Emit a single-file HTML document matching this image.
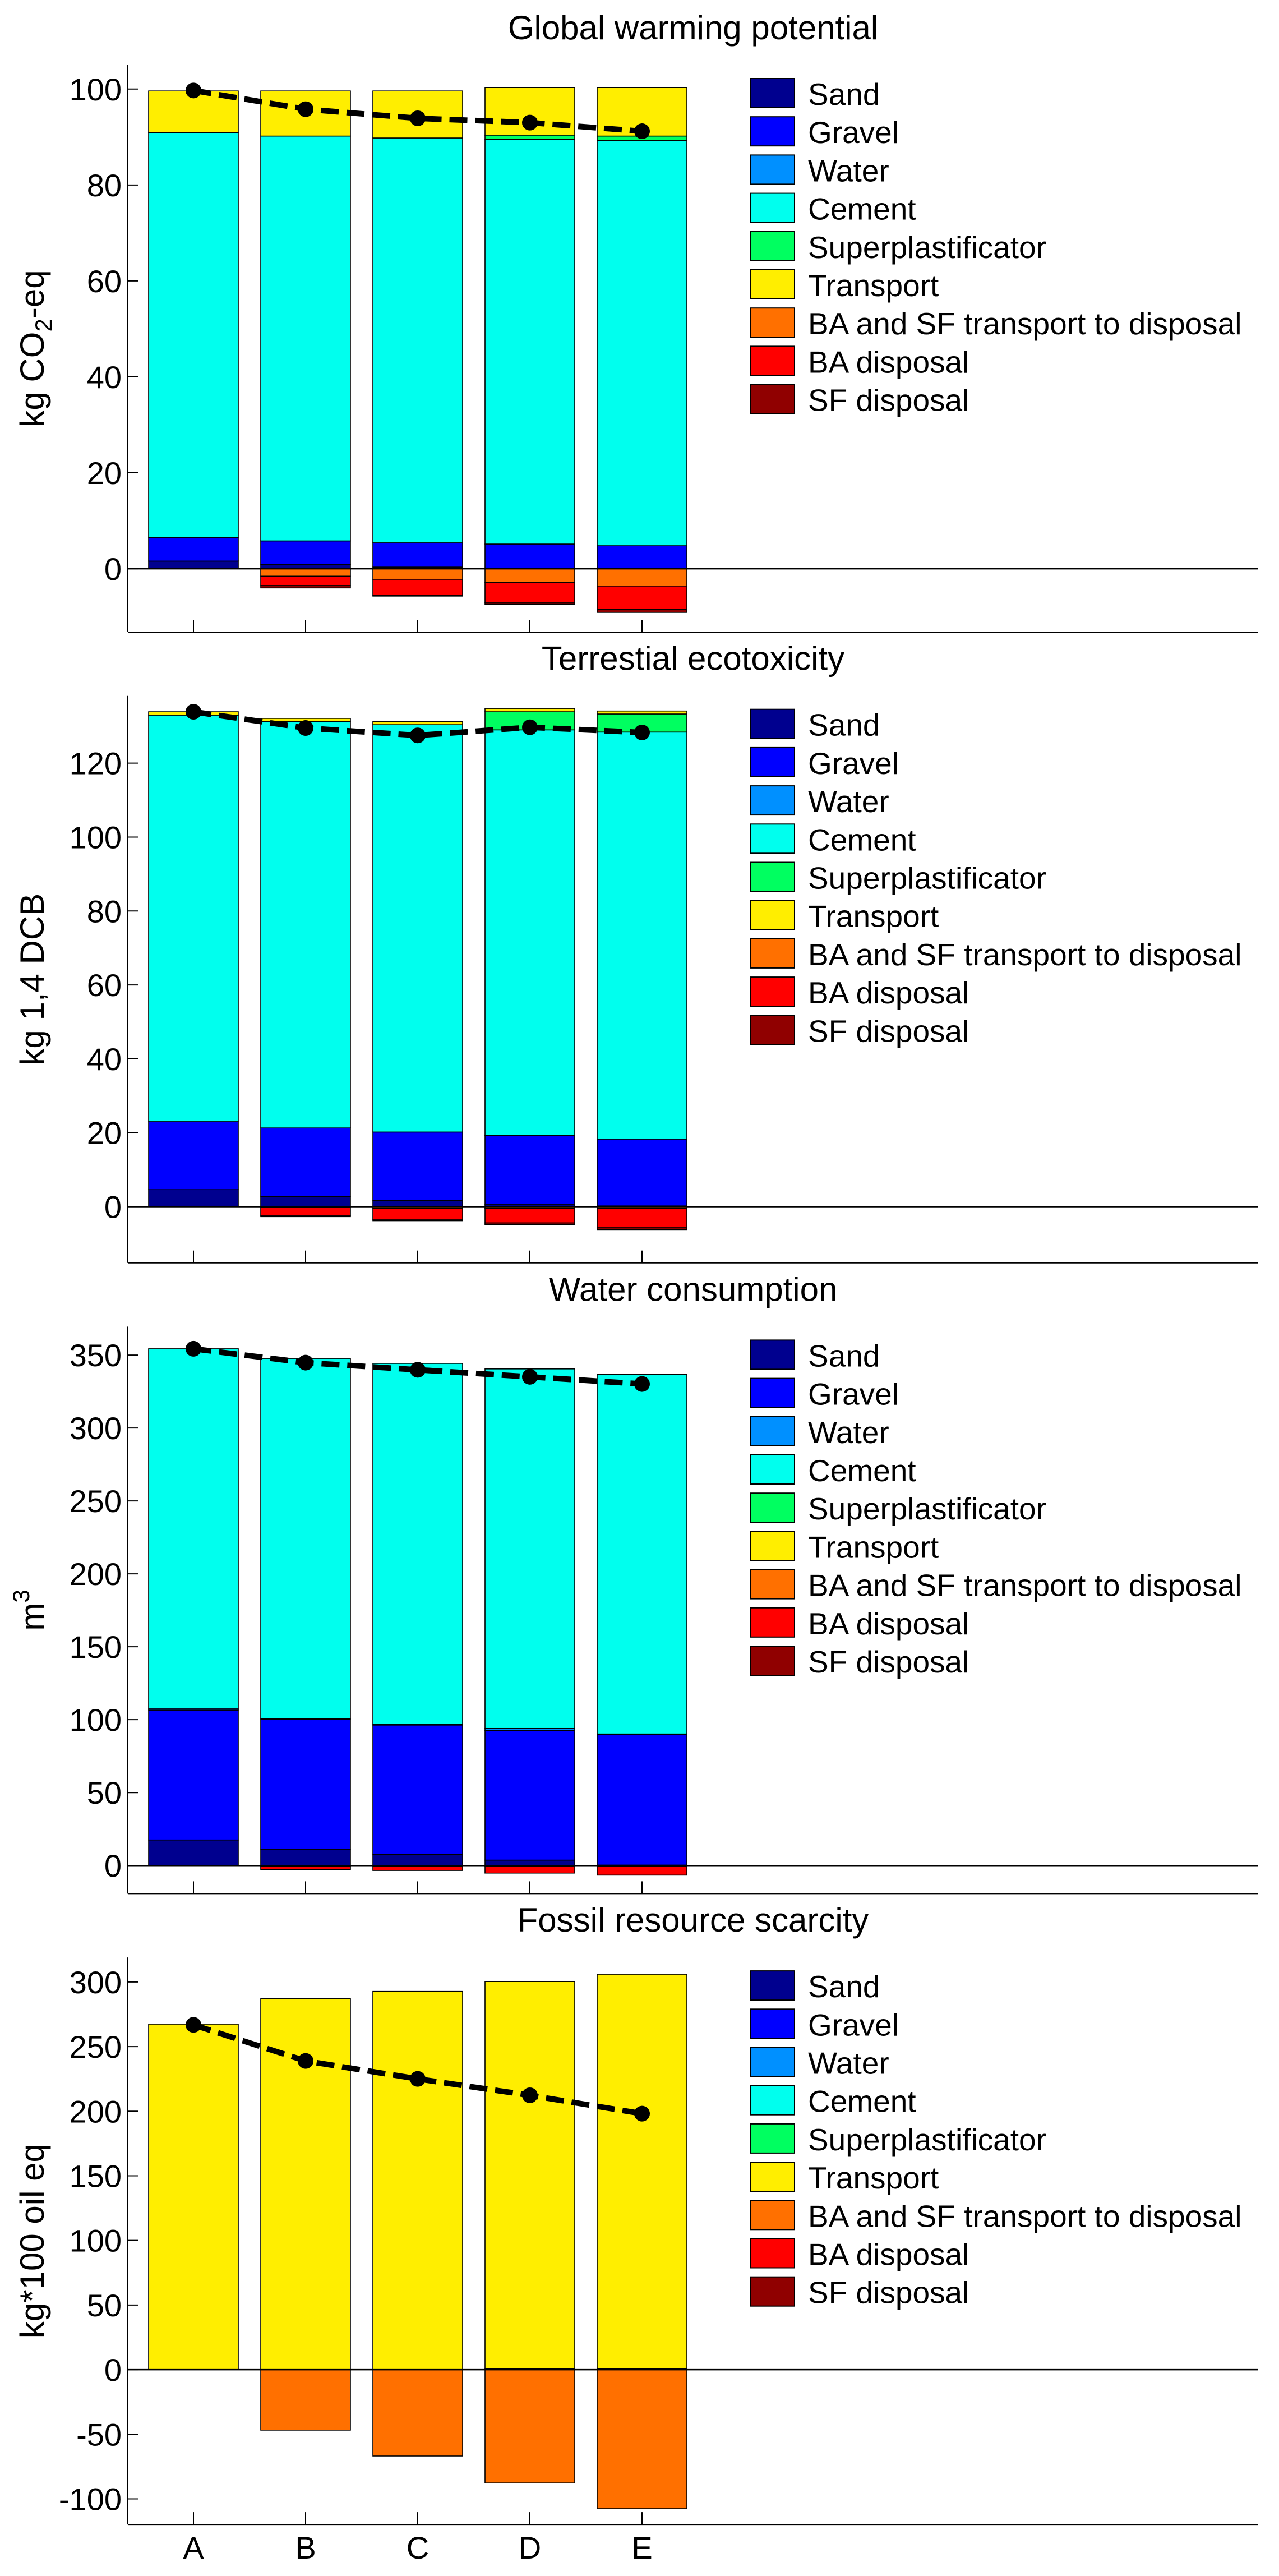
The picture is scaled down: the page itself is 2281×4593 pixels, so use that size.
<!DOCTYPE html>
<html><head><meta charset="utf-8"><style>
html,body{margin:0;padding:0;background:#fff}
svg{display:block}
text{font-family:"Liberation Sans",Arial,sans-serif;fill:#000}
</style></head><body>
<svg id="fig" xmlns="http://www.w3.org/2000/svg" width="2281" height="4593" viewBox="0 0 2281 4593"></svg>
<script>
const categories = ["A","B","C","D","E"];
const seriesNames = ["Sand","Gravel","Water","Cement","Superplastificator","Transport","BA and SF transport to disposal","BA disposal","SF disposal"];
const seriesColors = ["#00008f","#0000ff","#0090ff","#00ffee","#00ff60","#ffee00","#ff7000","#ff0000","#900000"];

// Global warming potential
const gwpSand = [1.6,0.9,0.35,0.1,0];
const gwpGravel = [4.9,4.9,5.05,5.05,4.8];
const gwpWater = [0,0,0,0,0];
const gwpCement = [84.4,84.4,84.4,84.35,84.5];
const gwpSP = [0,0,0,0.9,0.9];
const gwpTransport = [8.7,9.4,9.8,9.9,10.1];
const gwpBaSfTransport = [0,-1.55,-2.2,-2.9,-3.6];
const gwpBaDisposal = [0,-1.95,-3.3,-4.1,-4.9];
const gwpSfDisposal = [0,-0.5,-0.2,-0.4,-0.6];
const gwpNet = [99.7,95.8,93.9,93.0,91.2];
const gwpTicks = [0,20,40,60,80,100];

// Terrestial ecotoxicity
const tecSand = [4.6,2.8,1.7,0.7,0.2];
const tecGravel = [18.4,18.5,18.5,18.6,18.1];
const tecWater = [0,0,0,0,0];
const tecCement = [110.0,110.0,110.2,109.7,110.1];
const tecSP = [0,0,0,4.9,4.9];
const tecTransport = [0.9,0.8,0.8,0.9,0.8];
const tecBaSfTransport = [0,-0.2,-0.45,-0.45,-0.45];
const tecBaDisposal = [0,-2.3,-2.95,-3.95,-5.25];
const tecSfDisposal = [0,-0.2,-0.4,-0.5,-0.5];
const tecNet = [133.9,129.5,127.5,129.7,128.3];
const tecTicks = [0,20,40,60,80,100,120];

// Water consumption
const wcSand = [17.5,11.2,7.5,3.7,0.3];
const wcGravel = [89.1,89.1,88.8,88.8,89.6];
const wcWater = [1.2,0.6,0.5,1.5,0.3];
const wcCement = [246.5,246.8,247.5,246.5,246.6];
const wcSP = [0,0,0,0,0];
const wcTransport = [0,0,0,0,0];
const wcBaSfTransport = [0,-0.4,-0.5,-0.6,-0.7];
const wcBaDisposal = [0,-2.5,-2.9,-4.6,-5.9];
const wcSfDisposal = [0,0,0,0,0];
const wcNet = [354.3,344.8,339.9,335.1,330.2];
const wcTicks = [0,50,100,150,200,250,300,350];

// Fossil resource scarcity
const frsSand = [0,0,0,0,0];
const frsGravel = [0,0,0,0,0];
const frsWater = [0,0,0,0,0];
const frsCement = [0,0,0,0,0];
const frsSP = [0,0,0,0.6,0.6];
const frsTransport = [267.4,287.0,292.7,299.7,305.4];
const frsBaSfTransport = [0,-46.8,-66.8,-87.7,-107.6];
const frsBaDisposal = [0,0,0,0,0];
const frsSfDisposal = [0,0,0,0,0];
const frsNet = [266.8,238.9,225.0,212.3,198.1];
const frsTicks = [-100,-50,0,50,100,150,200,250,300];

const NS = "http://www.w3.org/2000/svg";
const svg = document.getElementById('fig');
function mk(tag, attrs, parent){
  const e = document.createElementNS(NS, tag);
  for (const k in attrs) e.setAttribute(k, attrs[k]);
  (parent||svg).appendChild(e);
  return e;
}

const panels = [
  {key:'gwp', title:'Global warming potential', ymin:-13.2, ymax:105, ticks:gwpTicks, ylabel:'co2',
   series:[gwpSand,gwpGravel,gwpWater,gwpCement,gwpSP,gwpTransport,gwpBaSfTransport,gwpBaDisposal,gwpSfDisposal], net:gwpNet},
  {key:'tec', title:'Terrestial ecotoxicity', ymin:-15.2, ymax:138.2, ticks:tecTicks, ylabel:'kg 1,4 DCB',
   series:[tecSand,tecGravel,tecWater,tecCement,tecSP,tecTransport,tecBaSfTransport,tecBaDisposal,tecSfDisposal], net:tecNet},
  {key:'wc', title:'Water consumption', ymin:-19.3, ymax:369.5, ticks:wcTicks, ylabel:'m3',
   series:[wcSand,wcGravel,wcWater,wcCement,wcSP,wcTransport,wcBaSfTransport,wcBaDisposal,wcSfDisposal], net:wcNet},
  {key:'frs', title:'Fossil resource scarcity', ymin:-119.8, ymax:319, ticks:frsTicks, ylabel:'kg*100 oil eq',
   series:[frsSand,frsGravel,frsWater,frsCement,frsSP,frsTransport,frsBaSfTransport,frsBaDisposal,frsSfDisposal], net:frsNet}
];

const AX_L = 228, AX_R = 2244, AX_H = 1011;
const X0 = 345, XSTEP = 200, BARW = 160;
function xScale(i){ return X0 + XSTEP*i; }

panels.forEach((p, k) => {
  const top = 116 + 1124.7*k;
  const bot = top + AX_H;
  const y = v => bot - (v - p.ymin) / (p.ymax - p.ymin) * AX_H;
  const g = mk('g', {});
  
  

  const t = mk('text', {x:(AX_L+AX_R)/2, y:top-46, 'font-size':60, 'text-anchor':'middle'}, g);
  t.textContent = p.title;
  
  

  categories.forEach((c, i) => {
    let pos = 0, neg = 0;
    p.series.forEach((s, si) => {
      const v = s[i];
      if (!v) return;
      let y1, y2;
      if (v > 0) { y1 = y(pos + v); y2 = y(pos); pos += v; }
      else { y1 = y(neg); y2 = y(neg + v); neg += v; }
      const r = mk('rect', {x:xScale(i)-BARW/2, y:y1, width:BARW, height:Math.max(0.5,y2-y1),
        fill:seriesColors[si], stroke:'#000', 'stroke-width':1.6}, g);
      
      
    });
  });

  const z = mk('line', {x1:AX_L, x2:AX_R, y1:y(0), y2:y(0), stroke:'#000', 'stroke-width':2.5}, g);
  
  

  const ya = mk('line', {x1:AX_L, x2:AX_L, y1:top, y2:bot, stroke:'#000', 'stroke-width':2}, g);
  
  
  const xa = mk('line', {x1:AX_L, x2:AX_R, y1:bot, y2:bot, stroke:'#000', 'stroke-width':2}, g);
  
  

  p.ticks.forEach(tv => {
    mk('line', {x1:AX_L, x2:AX_L+18, y1:y(tv), y2:y(tv), stroke:'#000', 'stroke-width':2}, g);
    const tl = mk('text', {x:217, y:y(tv)+20, 'font-size':56, 'text-anchor':'end'}, g);
    tl.textContent = tv;
    
    
  });
  categories.forEach((c, i) => {
    mk('line', {x1:xScale(i), x2:xScale(i), y1:bot, y2:bot-22, stroke:'#000', 'stroke-width':2}, g);
    if (k === 3) {
      const xl = mk('text', {x:xScale(i), y:bot+61, 'font-size':56, 'text-anchor':'middle'}, g);
      xl.textContent = c;
      
      
    }
  });

  const cy = (top+bot)/2;
  const yl = mk('text', {x:0, y:0, 'font-size':60, 'text-anchor':'middle',
    transform:`translate(78,${cy}) rotate(-90)`}, g);
  
  
  if (p.ylabel === 'co2') {
    yl.appendChild(document.createTextNode('kg CO'));
    const s = mk('tspan', {'font-size':42, dy:14}, yl); s.textContent = '2';
    const r = mk('tspan', {dy:-14}, yl); r.textContent = '-eq';
  } else if (p.ylabel === 'm3') {
    yl.appendChild(document.createTextNode('m'));
    const s = mk('tspan', {'font-size':42, dy:-26}, yl); s.textContent = '3';
  } else {
    yl.textContent = p.ylabel;
  }

  const pts = p.net.map((v,i) => xScale(i) + ',' + y(v)).join(' ');
  const pl = mk('polyline', {points:pts, fill:'none', stroke:'#000', 'stroke-width':10, 'stroke-dasharray':'32 14'}, g);
  
  
  p.net.forEach((v,i) => {
    const c = mk('circle', {cx:xScale(i), cy:y(v), r:14, fill:'#000'}, g);
    
    
  });

  const lg = mk('g', {}, g);
  
  
  seriesNames.forEach((n, si) => {
    const ry = top + 24 + 68.2*si;
    mk('rect', {x:1339, y:ry, width:78, height:52, fill:seriesColors[si], stroke:'#000', 'stroke-width':2}, lg);
    const lt = mk('text', {x:1441, y:ry+47, 'font-size':55}, lg);
    lt.textContent = n;
    
    
  });
});
</script>
</body></html>
